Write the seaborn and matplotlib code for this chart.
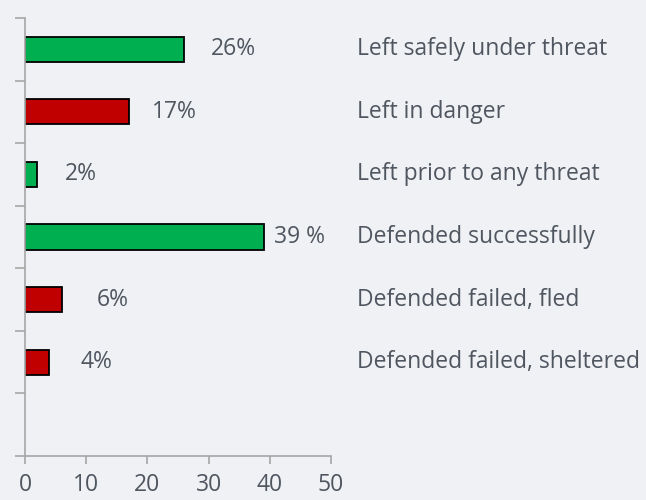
import matplotlib
matplotlib.use('Agg')
import matplotlib.pyplot as plt
import seaborn as sns
import pandas as pd

# Data
outcomes = ['Left safely under threat', 'Left in danger', 'Left prior to any threat',
            'Defended successfully', 'Defended failed, fled', 'Defended failed, sheltered']
percent = [26, 17, 2, 39, 6, 4]
value_labels = ['26%', '17%', '2%', '39 %', '6%', '4%']
good_outcome = [True, False, True, True, False, False]

# Styling
BG = '#eff1f4'
GREEN = '#00b050'
RED = '#c00000'
TEXT = '#4f5660'
AXIS = '#a6a6a6'
FS = 16.5
label_gap_px = [27, 23, 28, 10, 35, 31]   # hand-placed gaps in the original

sns.set_theme(style='white')
plt.rcParams['font.family'] = ['Open Sans', 'DejaVu Sans']

df = pd.DataFrame({'outcome': outcomes, 'percent': percent,
                   'kind': ['good' if g else 'bad' for g in good_outcome]})

fig = plt.figure(figsize=(6.46, 5.0), dpi=100, facecolor=BG)
ax = fig.add_axes([25 / 646, 1 - 456 / 500, (331 - 25) / 646, (456 - 18) / 500])
ax.set_facecolor(BG)

sns.barplot(data=df, x='percent', y='outcome', hue='kind', orient='h',
            palette={'good': GREEN, 'bad': RED}, saturation=1, width=0.4,
            edgecolor='black', linewidth=1.3, legend=False, ax=ax)

n = len(outcomes)
ax.set_ylim(n + 0.5, -0.5)   # one empty slot at the bottom
ax.set_xlim(0, 50)
ax.set_xticks(range(0, 51, 10))
ax.set_yticks([i - 0.5 for i in range(n + 2)])
ax.set_yticklabels([])
ax.set_xlabel('')
ax.set_ylabel('')

for side in ['top', 'right']:
    ax.spines[side].set_visible(False)
for side in ['left', 'bottom']:
    ax.spines[side].set_color(AXIS)
    ax.spines[side].set_linewidth(1.2)
ax.tick_params(axis='y', length=7, width=1.2, color=AXIS, left=True, direction='out')
ax.tick_params(axis='x', length=6, width=1.2, color=AXIS, bottom=True, direction='out',
               labelsize=FS, labelcolor=TEXT, pad=6)

for i, (val, lab, gap) in enumerate(zip(percent, value_labels, label_gap_px)):
    ax.annotate(lab, (val, i), xytext=(gap * 0.72, 0), textcoords='offset points',
                ha='left', va='center', fontsize=FS, color=TEXT)
    ax.annotate(outcomes[i], (1, i), xycoords=('axes fraction', 'data'),
                xytext=(26 * 0.72, 0), textcoords='offset points',
                ha='left', va='center', fontsize=FS, color=TEXT, annotation_clip=False)

plt.savefig('out.png', dpi=100, facecolor=BG)
